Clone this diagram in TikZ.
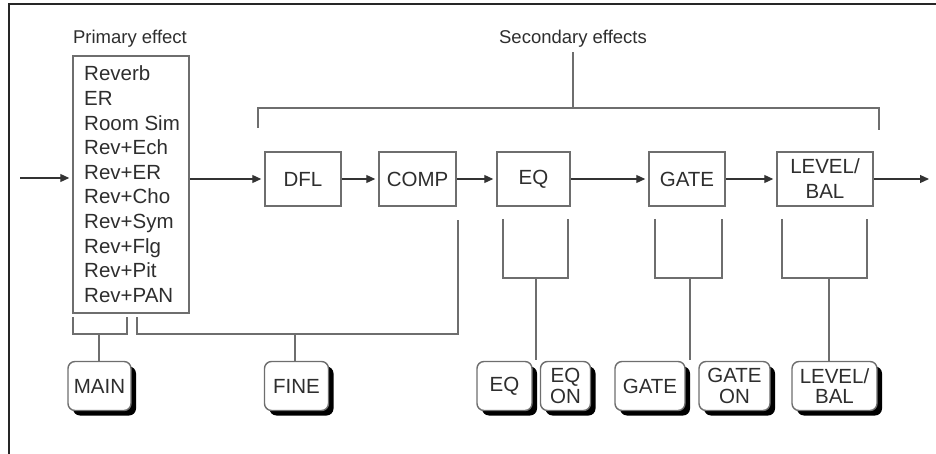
\documentclass[tikz,border=0pt]{standalone}
\usepackage{fontspec}
\setmainfont{Liberation Sans}
\usetikzlibrary{arrows.meta,shadows}
\definecolor{ln}{HTML}{6E6E6E}
\definecolor{tx}{HTML}{2E2E2E}
\tikzset{
  frameline/.style={draw=black!85, line width=1.4pt},
  wire/.style={draw=ln, line width=1.5pt},
  arr/.style={draw=black!80, line width=1.2pt, -{Triangle[length=9pt,width=8pt]}, shorten >=3pt},
  fxbox/.style={draw=ln, line width=1.5pt, fill=white, minimum height=54pt, inner sep=0pt,
    font=\fontsize{20.5}{24}\selectfont, text=tx, align=center},
  listtxt/.style={anchor=base west, inner sep=0pt, font=\fontsize{20.5}{24}\selectfont, text=tx},
  lbl/.style={anchor=base, inner sep=1pt, font=\fontsize{18.5}{22}\selectfont, text=tx},
  keybtn/.style={draw=ln, line width=1.4pt, fill=white, rounded corners=7pt,
    minimum height=49pt, inner sep=0pt, align=center,
    font=\fontsize{20.5}{20.5}\selectfont, text=tx,
    drop shadow={shadow xshift=5pt, shadow yshift=-5pt, fill=black, opacity=1}},
}
\begin{document}
\begin{tikzpicture}[x=1pt, y=-1pt]
\useasboundingbox (0,0) rectangle (936,454);
% frame
\draw[frameline] (936,4) -- (9,4) -- (9,454);

% labels
\node[lbl] (plab) at (130,44) {Primary effect};
\node[lbl] (slab) at (573,44) {Secondary effects};

% primary box
\node[draw=ln, line width=1.5pt, minimum width=116pt, minimum height=257pt, inner sep=0pt] (prim) at (131,184.5) {};
\foreach \t [count=\i] in {Reverb, ER, Room Sim, Rev+Ech, Rev+ER, Rev+Cho, Rev+Sym, Rev+Flg, Rev+Pit, Rev+PAN}
  \node[listtxt] (p\i) at (84,{81+24.6*(\i-1)}) {\t};

% secondary boxes
\node[fxbox, minimum width=76pt] (dfl) at (303,179) {DFL};
\node[fxbox, minimum width=77pt] (comp) at (417.5,179) {COMP};
\node[fxbox, minimum width=73pt] (eq) at (533.5,179) {EQ};
\node[fxbox, minimum width=76pt] (gate) at (687,179) {GATE};
\node[fxbox, minimum width=96pt, font=\fontsize{20.5}{25}\selectfont] (lev) at (825,179) {LEVEL/\\BAL};

% signal flow
\coordinate (in) at (20,178);
\coordinate (out) at (932,179);
\draw[arr] (in) -- (in -| prim.west);
\draw[arr] (prim.east |- dfl.west) -- (dfl.west);
\draw[arr] (dfl) -- (comp);
\draw[arr] (comp) -- (eq);
\draw[arr] (eq) -- (gate);
\draw[arr] (gate) -- (lev);
\draw[arr] (lev.east) -- (out);

% secondary bracket
\coordinate (sj) at (573,108);
\draw[wire] (slab.south) ++(0,3) -- (sj);
\draw[wire] (258,128) -- (258,108) -- (879,108) -- (879,130);

% keys
\node[keybtn, minimum width=63pt] (kmain) at (99.5,386) {MAIN};
\node[keybtn, minimum width=64pt] (kfine) at (296.5,386) {FINE};
\node[keybtn, minimum width=55pt] (keq) at (504.5,386) {EQ};
\node[keybtn, minimum width=50pt] (keqon) at (565.5,386) {EQ\\ON};
\node[keybtn, minimum width=70pt] (kgate) at (650,386) {GATE};
\node[keybtn, minimum width=71pt] (kgateon) at (734.5,386) {GATE\\ON};
\node[keybtn, minimum width=85pt] (klev) at (834.5,386) {LEVEL/\\BAL};

% MAIN bracket
\coordinate (mj) at (99,334);
\draw[wire] (73,317) -- (73,334) -- (127,334) -- (127,317);
\draw[wire] (mj) -- (kmain.north -| mj);

% FINE bracket
\coordinate (fj) at (295,334);
\draw[wire] (137,317) -- (137,334) -- (458,334) -- (458,220);
\draw[wire] (fj) -- (kfine.north -| fj);

% EQ bracket
\coordinate (ej) at (536,278);
\draw[wire] (503,219) -- (503,278) -- (568,278) -- (568,219);
\draw[wire] (ej) -- (536,360);

% GATE bracket
\coordinate (gj) at (690,278);
\draw[wire] (655,219) -- (655,278) -- (722,278) -- (722,219);
\draw[wire] (gj) -- (690,360);

% LEVEL bracket
\coordinate (lj) at (829,278);
\draw[wire] (782,219) -- (782,278) -- (867,278) -- (867,219);
\draw[wire] (lj) -- (klev.north -| lj);
\end{tikzpicture}
\end{document}
